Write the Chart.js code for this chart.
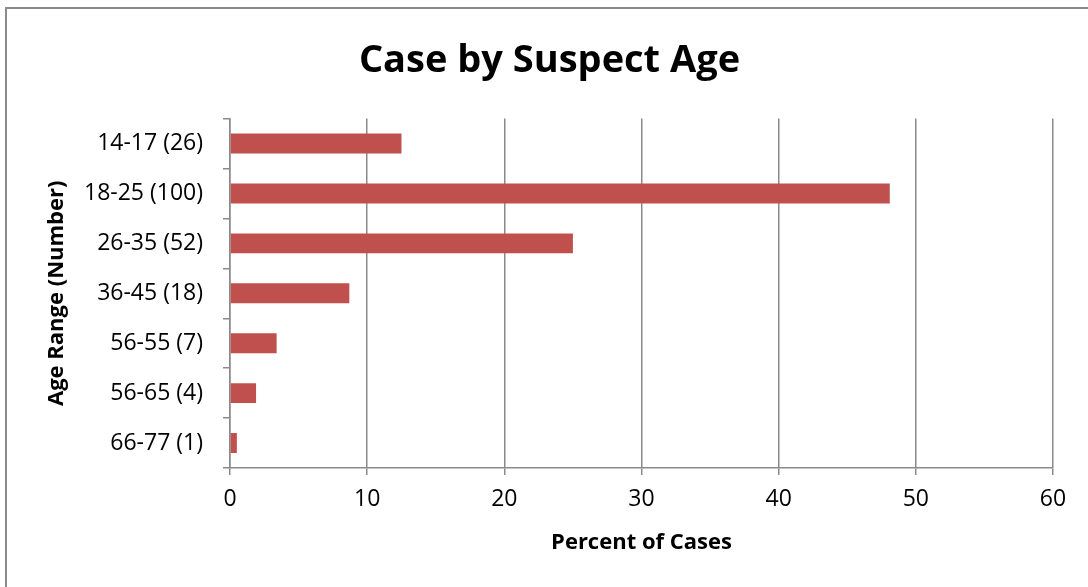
<!DOCTYPE html>
<html>
<head>
<meta charset="utf-8">
<script src="https://cdn.jsdelivr.net/npm/chart.js@4"></script>
<style>
    html, body { margin: 0; padding: 0; background: #fff; }
    #wrap { position: relative; width: 1088px; height: 587px; }
    #frame {
        position: absolute; left: 5px; top: 7px; right: -10px; bottom: -10px;
        border-left: 2px solid #8a8a8a; border-top: 2px solid #8a8a8a;
        pointer-events: none;
    }
</style>
</head>
<body>
<div id="wrap">
    <canvas id="ageChart" width="1088" height="587"></canvas>
    <div id="frame"></div>
</div>
<script>
    // age groups, with case counts in brackets
    const ageLabels = ['14-17 (26)', '18-25 (100)', '26-35 (52)', '36-45 (18)', '56-55 (7)', '56-65 (4)', '66-77 (1)'];
    const percentValues = [12.5, 48.1, 25.0, 8.7, 3.4, 1.9, 0.5];
    const xTicks = [0, 10, 20, 30, 40, 50, 60];

    const barColor = '#C0504D';
    const axisGray = '#8a8a8a';
    const fontFamily = '"Open Sans", Lato, sans-serif';

    Chart.defaults.font.family = fontFamily;
    Chart.defaults.color = '#000';

    const ctx = document.getElementById('ageChart').getContext('2d');
    new Chart(ctx, {
        type: 'bar',
        data: {
            labels: ageLabels,
            datasets: [{
                label: 'Percent of Cases',
                data: percentValues,
                backgroundColor: barColor,
                borderWidth: 0,
                barPercentage: 0.4,
                categoryPercentage: 1
            }]
        },
        options: {
            indexAxis: 'y',
            responsive: false,
            animation: false,
            // left/right padding also nudges the centred title towards x=551
            layout: { padding: { left: 46, right: 35, top: 0, bottom: 0 } },
            scales: {
                x: {
                    min: 0,
                    max: 60,
                    afterBuildTicks: (scale) => {
                        scale.ticks = xTicks.map(v => ({ value: v }));
                    },
                    afterFit: (scale) => { scale.height = 119; },
                    grid: {
                        color: axisGray,
                        lineWidth: 1.5,
                        drawTicks: true,
                        tickLength: 7
                    },
                    border: { color: axisGray, width: 1.5 },
                    ticks: {
                        font: { size: 23 },
                        padding: 11,
                        maxRotation: 0
                    },
                    title: {
                        display: true,
                        text: 'Percent of Cases',
                        font: { size: 22, weight: 'bold' },
                        padding: { top: 31, bottom: 31 }
                    }
                },
                y: {
                    afterFit: (scale) => { scale.width = 230 - 46; },
                    grid: {
                        drawOnChartArea: false,
                        drawTicks: true,
                        tickLength: 7,
                        color: axisGray,
                        lineWidth: 1.5,
                        offset: true
                    },
                    border: { color: axisGray, width: 1.5 },
                    ticks: {
                        font: { size: 23 },
                        padding: 20
                    },
                    title: {
                        display: true,
                        text: 'Age Range (Number)',
                        font: { size: 22, weight: 'bold' },
                        padding: { top: -2, bottom: 0 }
                    }
                }
            },
            plugins: {
                legend: { display: false },
                tooltip: { enabled: false },
                title: {
                    display: true,
                    text: 'Case by Suspect Age',
                    font: { size: 38, weight: 'bold' },
                    color: '#000',
                    padding: { top: 38, bottom: 35 }
                }
            }
        }
    });
</script>
</body>
</html>
